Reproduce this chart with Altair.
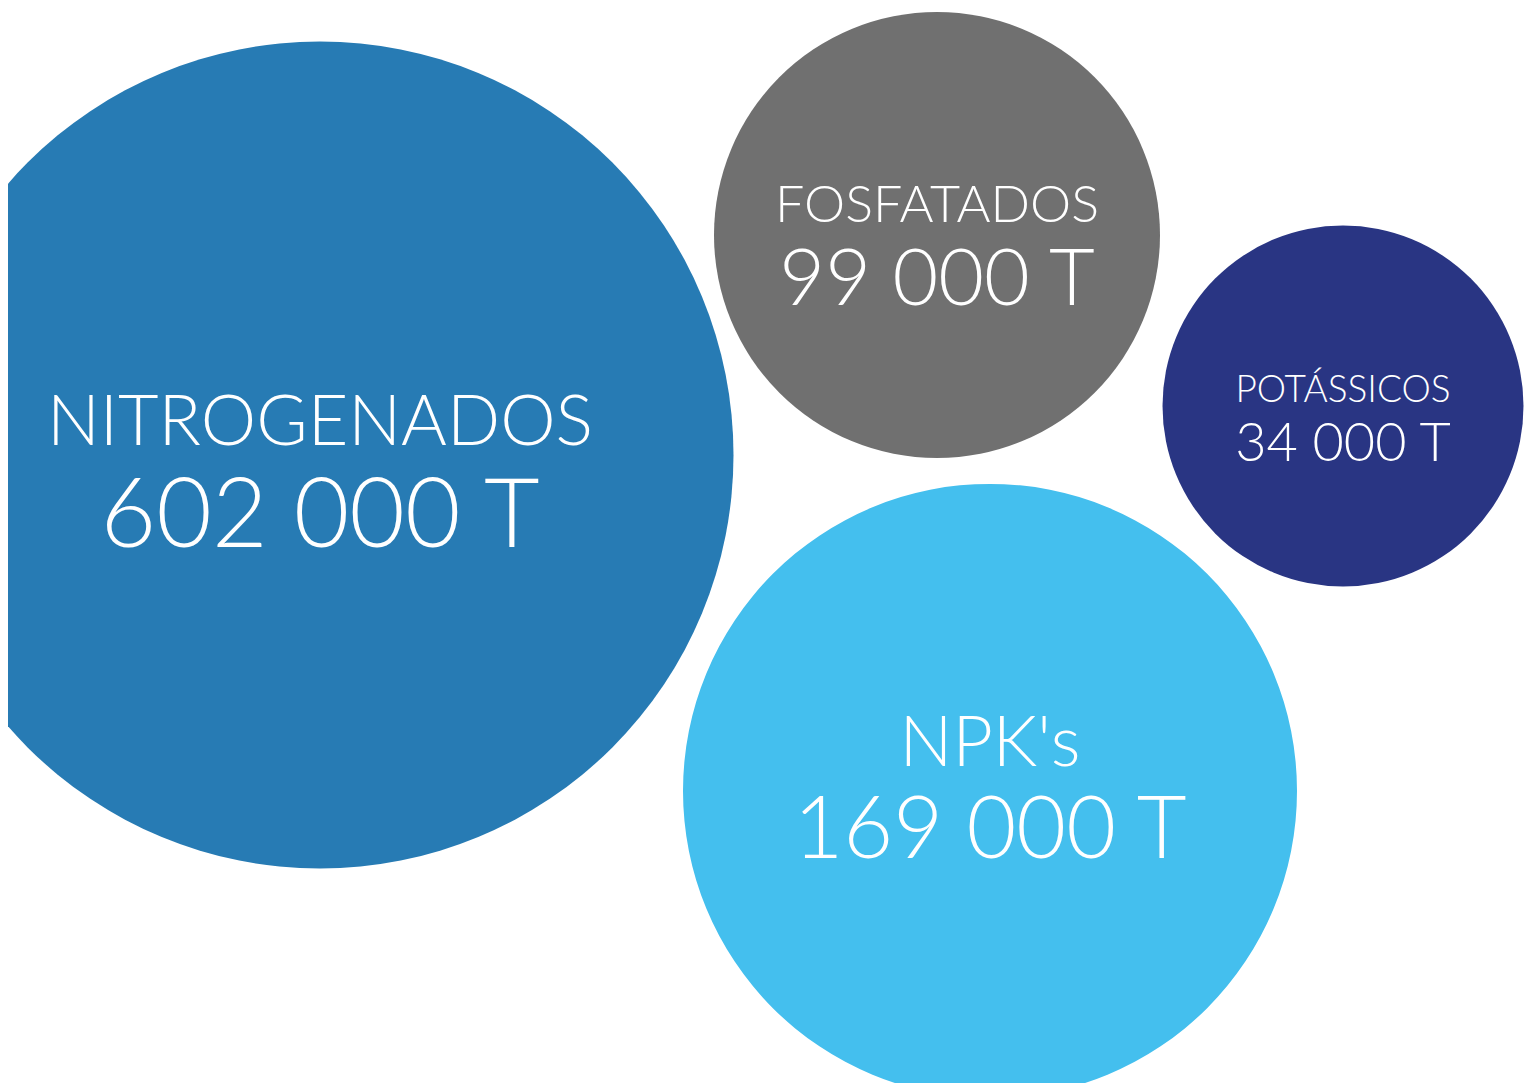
import altair as alt
import pandas as pd

# ---- data ----
categories = ["NITROGENADOS", "FOSFATADOS", "POTÁSSICOS", "NPK's"]
values = [602000, 99000, 34000, 169000]
value_labels = ["602 000 T", "99 000 T", "34 000 T", "169 000 T"]

# ---- bubble layout (page pixel units) ----
center_x = [320, 937, 1343, 990]
center_y = [455, 235, 406, 791]
name_dy = [-10, -13, -4, -25]
value_dy = [92, 70, 55, 67]
name_font = [70, 52, 37, 70]
value_font = [96, 79, 54, 86]

# ---- styles ----
colors = ["#277bb4", "#707070", "#293583", "#44bfee"]
size_domain = [34000, 99000, 169000, 602000]
size_range = [361 ** 2, 446 ** 2, 614 ** 2, 827 ** 2]

df = pd.DataFrame({
    "cat": categories,
    "value": values,
    "vlabel": value_labels,
    "cx": center_x,
    "cy": center_y,
    "ny": [c + d for c, d in zip(center_y, name_dy)],
    "vy": [c + d for c, d in zip(center_y, value_dy)],
    "nfs": name_font,
    "vfs": value_font,
})

W, H = 1518, 1075
xs = alt.Scale(domain=[8, 8 + W], nice=False, zero=False)
ys = alt.Scale(domain=[8, 8 + H], nice=False, zero=False, reverse=True)

base = alt.Chart(df)

circles = base.mark_circle(opacity=1).encode(
    x=alt.X("cx:Q", scale=xs, axis=None),
    y=alt.Y("cy:Q", scale=ys, axis=None),
    size=alt.Size("value:Q", scale=alt.Scale(type="linear", domain=size_domain, range=size_range), legend=None),
    color=alt.Color("cat:N", scale=alt.Scale(domain=categories, range=colors), legend=None),
)

names = base.mark_text(color="white", font="Lato", fontWeight=300, baseline="alphabetic", align="center").encode(
    x=alt.X("cx:Q", scale=xs, axis=None),
    y=alt.Y("ny:Q", scale=ys, axis=None),
    text="cat:N",
    size=alt.Size("nfs:Q", scale=None),
)

vals = base.mark_text(color="white", font="Lato", fontWeight=300, baseline="alphabetic", align="center").encode(
    x=alt.X("cx:Q", scale=xs, axis=None),
    y=alt.Y("vy:Q", scale=ys, axis=None),
    text="vlabel:N",
    size=alt.Size("vfs:Q", scale=None),
)

chart = alt.layer(circles, names, vals).resolve_scale(size="independent").properties(
    width=W, height=H, autosize=alt.AutoSizeParams(type="none"), padding=0, background="white"
).configure_view(stroke=None)

chart.save("out.html", embed_options={"renderer": "svg", "actions": False})
